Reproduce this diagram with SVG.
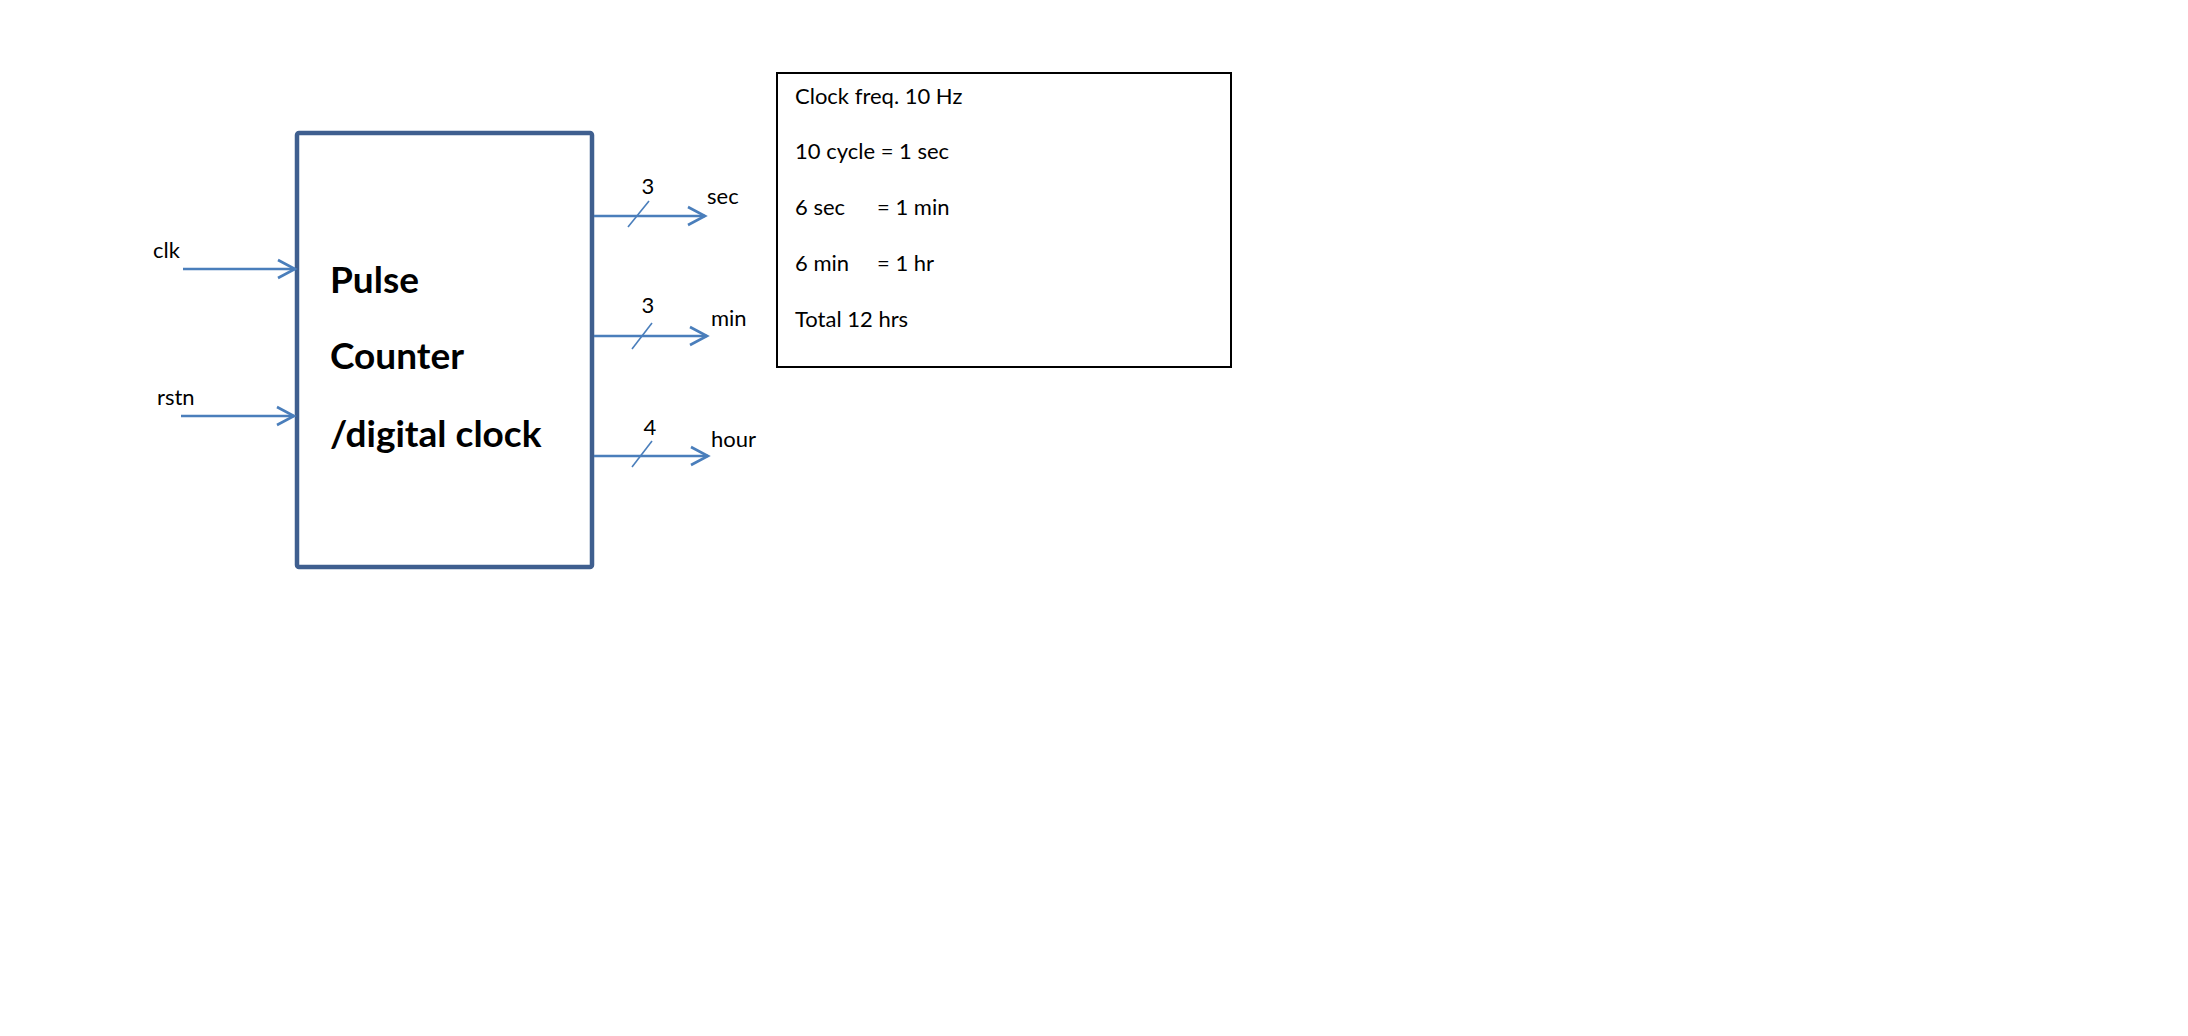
<svg xmlns="http://www.w3.org/2000/svg" width="2188" height="1036" viewBox="0 0 2188 1036">
  <style>
    .lbl { font-family: Lato, "Liberation Sans", sans-serif; font-size: 22px; fill: #000; }
    .note { font-family: Lato, "Liberation Sans", sans-serif; font-size: 22px; fill: #000; }
    .title { font-family: Lato, "Liberation Sans", sans-serif; font-size: 37px; font-weight: bold; fill: #000; }
    .wire { stroke: #4A7EBB; stroke-width: 2.6; fill: none; }
    .bus { stroke: #4A7EBB; stroke-width: 1.6; fill: none; }
  </style>
  <defs>
    <marker id="open" markerUnits="userSpaceOnUse" markerWidth="24" markerHeight="24" viewBox="-20 -12 24 24" refX="0" refY="0" orient="auto" overflow="visible">
      <path d="M-17,-9 L0,0 L-17,9" fill="none" stroke="#4A7EBB" stroke-width="2.6"/>
    </marker>
  </defs>
  <rect width="2188" height="1036" fill="#fff"/>

  <!-- counter block -->
  <g id="counter">
    <rect x="297" y="133" width="295" height="434" rx="2" fill="#fff" stroke="#3F5F8F" stroke-width="4.5" stroke-linejoin="round"/>
    <text class="title" x="330" y="293">Pulse</text>
    <text class="title" x="330" y="369">Counter</text>
    <text class="title" x="330" y="447">/digital clock</text>
  </g>

  <!-- notes box -->
  <g id="notes">
    <rect x="777" y="73" width="454" height="294" fill="#fff" stroke="#000" stroke-width="2"/>
    <text class="note" x="795" y="104">Clock freq. 10 Hz</text>
    <text class="note" x="795" y="159">10 cycle = 1 sec</text>
    <text class="note" x="795" y="215">6 sec<tspan x="877">= 1 min</tspan></text>
    <text class="note" x="795" y="271">6 min<tspan x="877">= 1 hr</tspan></text>
    <text class="note" x="795" y="327">Total 12 hrs</text>
  </g>

  <!-- port labels -->
  <g id="in-clk"><text class="lbl" x="153" y="258">clk</text></g>
  <g id="in-rstn"><text class="lbl" x="157" y="405">rstn</text></g>
  <g id="out-sec">
    <text class="lbl" x="707" y="204">sec</text>
    <text class="lbl" x="648" y="194" text-anchor="middle">3</text>
  </g>
  <g id="out-min">
    <text class="lbl" x="711" y="326">min</text>
    <text class="lbl" x="648" y="313" text-anchor="middle">3</text>
  </g>
  <g id="out-hour">
    <text class="lbl" x="711" y="447">hour</text>
    <text class="lbl" x="650" y="435" text-anchor="middle">4</text>
  </g>

  <!-- connectors -->
  <g id="connectors">
    <line class="wire" x1="183" y1="269" x2="295" y2="269" marker-end="url(#open)"/>
    <line class="wire" x1="181" y1="416" x2="294" y2="416" marker-end="url(#open)"/>
    <line class="wire" x1="594" y1="216" x2="705" y2="216" marker-end="url(#open)"/>
    <line class="wire" x1="594" y1="336" x2="707" y2="336" marker-end="url(#open)"/>
    <line class="wire" x1="594" y1="456" x2="708" y2="456" marker-end="url(#open)"/>
    <line class="bus" x1="628" y1="227" x2="649" y2="201"/>
    <line class="bus" x1="632" y1="349" x2="652" y2="323"/>
    <line class="bus" x1="632" y1="467" x2="652" y2="441"/>
  </g>
</svg>
